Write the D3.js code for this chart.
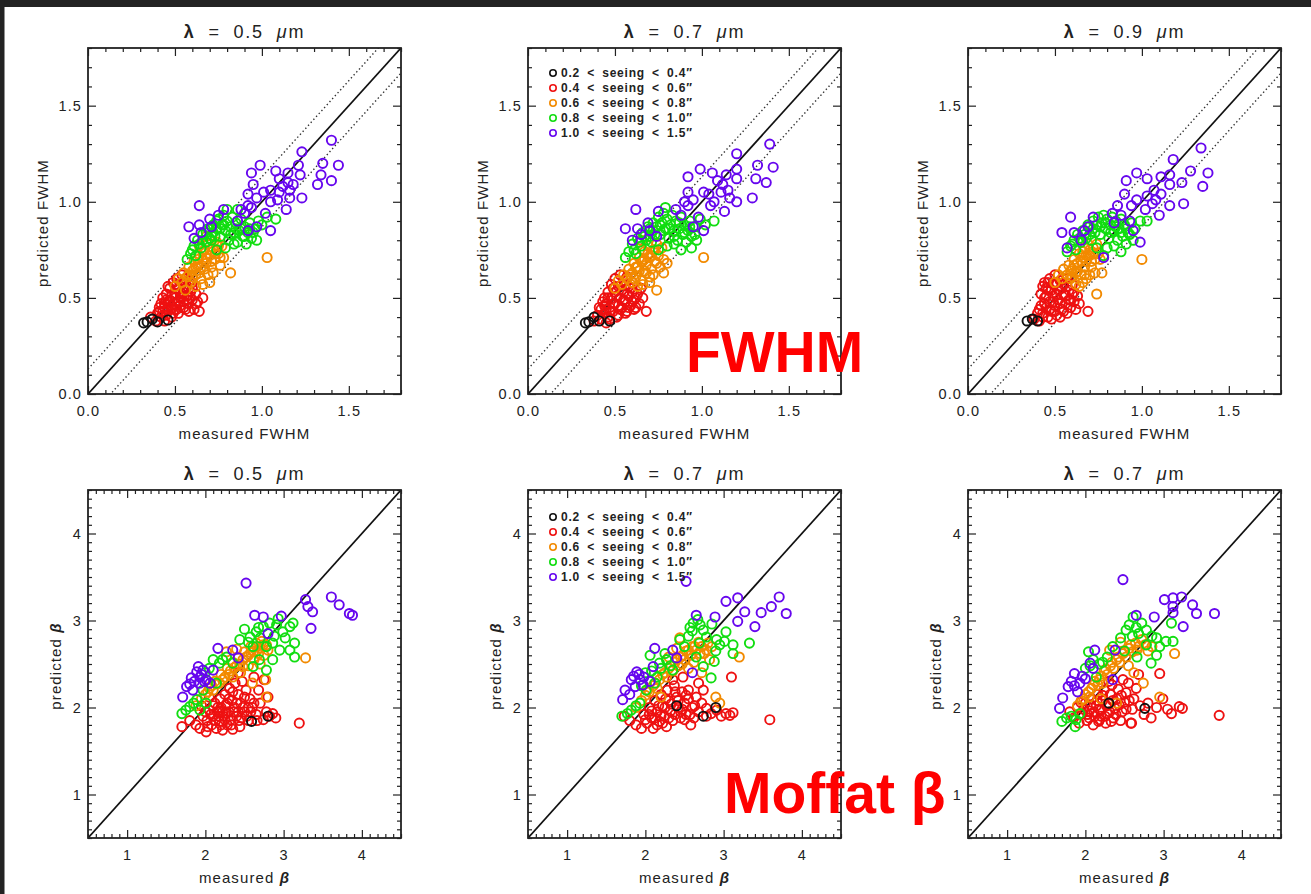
<!DOCTYPE html>
<html><head><meta charset="utf-8">
<script src="https://cdn.jsdelivr.net/npm/d3@7"></script>
<style>body{margin:0;background:#fff}svg{display:block}</style>
</head><body><svg id="c" width="1311" height="894"></svg>
<script>
// ---------------- DATA ----------------
const seeingLabels = ["0.2 < seeing < 0.4\u2033","0.4 < seeing < 0.6\u2033","0.6 < seeing < 0.8\u2033","0.8 < seeing < 1.0\u2033","1.0 < seeing < 1.5\u2033"];
const panelTitles = ["0.5","0.7","0.9","0.5","0.7","0.7"];
const fwhmTicks = [0, 0.5, 1.0, 1.5];
const betaTicks = [1, 2, 3, 4];
const fwhmDomain = [0, 1.8];
const betaDomain = [0.5, 4.5];
const fwhmBand = 0.13;

// Panel 1: FWHM, lambda = 0.5
const f05Black = [[0.32,0.37],[0.34,0.375],[0.37,0.39],[0.40,0.375],[0.46,0.385]];
const f05Red = [[0.36,0.40],[0.39,0.38],[0.40,0.42],[0.42,0.40],[0.41,0.45],[0.43,0.43],[0.44,0.47],[0.45,0.41],[0.46,0.44],[0.47,0.49],[0.48,0.46],[0.49,0.42],[0.50,0.52],[0.50,0.47],[0.51,0.44],[0.52,0.55],[0.53,0.50],[0.53,0.46],[0.54,0.58],[0.55,0.53],[0.55,0.48],[0.56,0.44],[0.57,0.56],[0.57,0.51],[0.58,0.47],[0.59,0.53],[0.60,0.49],[0.61,0.44],[0.62,0.52],[0.63,0.48],[0.64,0.43],[0.47,0.55],[0.45,0.52],[0.43,0.50],[0.49,0.58],[0.51,0.60],[0.48,0.40],[0.52,0.42],[0.58,0.43],[0.66,0.50],[0.44,0.38],[0.46,0.56],[0.54,0.62],[0.60,0.58],[0.56,0.60],[0.41,0.43],[0.44,0.45],[0.46,0.48],[0.48,0.51],[0.50,0.50],[0.52,0.48],[0.54,0.51],[0.56,0.55],[0.58,0.59],[0.60,0.55],[0.62,0.47],[0.48,0.44],[0.51,0.57],[0.53,0.53],[0.55,0.45],[0.57,0.49],[0.45,0.49],[0.42,0.47],[0.50,0.44],[0.59,0.50]];
const f05Orange = [[0.50,0.56],[0.52,0.60],[0.54,0.58],[0.55,0.63],[0.57,0.61],[0.58,0.66],[0.59,0.58],[0.60,0.64],[0.61,0.69],[0.62,0.62],[0.63,0.67],[0.64,0.72],[0.65,0.60],[0.66,0.70],[0.67,0.65],[0.67,0.75],[0.68,0.68],[0.69,0.78],[0.70,0.72],[0.71,0.66],[0.72,0.76],[0.73,0.70],[0.74,0.79],[0.75,0.73],[0.76,0.67],[0.77,0.77],[0.78,0.71],[0.69,0.62],[0.72,0.63],[0.62,0.56],[0.56,0.54],[0.66,0.57],[0.68,0.82],[0.64,0.77],[0.82,0.63],[1.03,0.71],[0.70,0.58],[0.58,0.62],[0.61,0.65],[0.63,0.70],[0.65,0.66],[0.66,0.74],[0.68,0.71],[0.70,0.75],[0.71,0.69],[0.73,0.73],[0.75,0.77],[0.62,0.66],[0.64,0.63],[0.76,0.71],[0.60,0.61]];
const f05Green = [[0.57,0.70],[0.59,0.73],[0.61,0.77],[0.62,0.72],[0.63,0.80],[0.65,0.76],[0.66,0.83],[0.68,0.79],[0.69,0.86],[0.70,0.81],[0.72,0.84],[0.72,0.88],[0.74,0.86],[0.75,0.91],[0.76,0.82],[0.77,0.88],[0.78,0.93],[0.79,0.85],[0.80,0.90],[0.81,0.80],[0.82,0.87],[0.83,0.92],[0.84,0.84],[0.85,0.89],[0.86,0.79],[0.87,0.85],[0.88,0.91],[0.89,0.82],[0.90,0.87],[0.91,0.78],[0.92,0.84],[0.93,0.89],[0.94,0.81],[0.96,0.86],[0.98,0.90],[1.00,0.88],[1.03,0.92],[1.08,0.91],[0.79,0.76],[0.84,0.78],[0.74,0.75],[0.97,0.80],[0.86,0.96],[0.80,0.96],[0.60,0.75],[0.64,0.78],[0.66,0.80],[0.68,0.84],[0.70,0.86],[0.71,0.80],[0.73,0.82],[0.74,0.90],[0.76,0.86],[0.78,0.88],[0.82,0.83],[0.85,0.86],[0.88,0.86],[0.90,0.82],[0.93,0.86],[0.95,0.84]];
const f05Purple = [[1.40,1.32],[1.23,1.26],[1.35,1.20],[1.44,1.19],[1.34,1.14],[1.40,1.11],[1.32,1.09],[1.23,1.02],[1.14,0.96],[0.99,1.19],[0.94,1.15],[1.08,1.16],[1.15,1.15],[1.21,1.19],[1.22,1.14],[1.15,1.10],[1.10,1.12],[0.95,1.09],[1.05,1.06],[1.10,1.05],[1.16,1.06],[0.92,1.04],[0.97,1.02],[1.01,1.05],[1.09,1.01],[1.05,1.00],[0.94,0.97],[1.02,0.94],[0.90,0.94],[0.64,0.98],[0.78,0.96],[0.58,0.87],[0.64,0.88],[0.70,0.91],[0.71,0.87],[0.75,0.93],[0.61,0.81],[0.65,0.84],[0.92,0.85],[0.97,0.87],[1.05,0.85],[0.92,0.98],[1.16,1.02],[1.18,1.09],[1.12,1.08],[0.86,0.90],[0.88,0.96]];

// Panel 2: FWHM, lambda = 0.7
const f07Black = [[0.33,0.37],[0.35,0.375],[0.38,0.40],[0.41,0.38],[0.47,0.38]];
const f07Red = [[0.38,0.38],[0.40,0.41],[0.42,0.39],[0.42,0.44],[0.44,0.42],[0.45,0.47],[0.46,0.40],[0.47,0.45],[0.48,0.50],[0.49,0.43],[0.50,0.53],[0.50,0.47],[0.52,0.41],[0.52,0.56],[0.53,0.50],[0.54,0.45],[0.55,0.59],[0.55,0.53],[0.56,0.48],[0.57,0.43],[0.58,0.56],[0.58,0.51],[0.59,0.46],[0.60,0.53],[0.61,0.49],[0.62,0.45],[0.63,0.52],[0.64,0.47],[0.66,0.50],[0.46,0.53],[0.44,0.50],[0.48,0.57],[0.50,0.60],[0.53,0.62],[0.47,0.39],[0.51,0.40],[0.56,0.42],[0.61,0.44],[0.68,0.43],[0.45,0.37],[0.57,0.61],[0.60,0.58],[0.43,0.48],[0.65,0.55],[0.41,0.45],[0.44,0.46],[0.46,0.50],[0.47,0.43],[0.49,0.47],[0.51,0.51],[0.52,0.46],[0.54,0.54],[0.55,0.49],[0.56,0.57],[0.57,0.52],[0.59,0.55],[0.60,0.48],[0.62,0.50],[0.49,0.55],[0.53,0.44],[0.45,0.44],[0.58,0.45]];
const f07Orange = [[0.50,0.55],[0.52,0.59],[0.54,0.57],[0.55,0.62],[0.57,0.60],[0.58,0.65],[0.60,0.58],[0.60,0.63],[0.61,0.68],[0.62,0.61],[0.63,0.66],[0.64,0.71],[0.65,0.59],[0.66,0.69],[0.67,0.64],[0.67,0.74],[0.68,0.67],[0.69,0.77],[0.70,0.71],[0.71,0.65],[0.72,0.75],[0.73,0.69],[0.74,0.78],[0.75,0.72],[0.76,0.66],[0.77,0.76],[0.78,0.70],[0.70,0.61],[0.72,0.62],[0.63,0.56],[0.66,0.57],[0.65,0.80],[0.78,0.63],[0.74,0.54],[1.01,0.71],[0.80,0.68],[0.70,0.58],[0.59,0.62],[0.62,0.66],[0.64,0.64],[0.65,0.69],[0.67,0.70],[0.69,0.73],[0.71,0.72],[0.73,0.75],[0.68,0.63],[0.74,0.68],[0.61,0.60],[0.66,0.75]];
const f07Green = [[0.56,0.71],[0.58,0.74],[0.60,0.78],[0.62,0.73],[0.63,0.81],[0.65,0.77],[0.66,0.84],[0.68,0.80],[0.69,0.87],[0.70,0.82],[0.72,0.85],[0.72,0.89],[0.74,0.87],[0.75,0.92],[0.76,0.83],[0.77,0.89],[0.78,0.94],[0.79,0.86],[0.80,0.91],[0.81,0.81],[0.82,0.88],[0.83,0.93],[0.84,0.85],[0.85,0.90],[0.86,0.80],[0.87,0.86],[0.88,0.92],[0.89,0.83],[0.90,0.88],[0.91,0.79],[0.92,0.85],[0.93,0.90],[0.94,0.82],[0.96,0.87],[0.97,0.80],[0.99,0.91],[1.02,0.88],[1.07,0.90],[0.80,0.77],[0.84,0.78],[0.75,0.75],[0.88,0.75],[0.94,0.76],[0.79,0.97],[0.61,0.75],[0.64,0.79],[0.67,0.82],[0.70,0.86],[0.71,0.79],[0.73,0.83],[0.76,0.88],[0.78,0.85],[0.81,0.86],[0.84,0.82],[0.87,0.89],[0.90,0.84],[0.93,0.87],[0.96,0.83]];
const f07Purple = [[1.39,1.30],[1.20,1.25],[1.32,1.19],[1.41,1.18],[1.31,1.12],[1.37,1.10],[1.29,1.02],[1.20,1.00],[1.13,0.95],[0.99,1.17],[0.92,1.13],[1.06,1.15],[1.14,1.14],[1.20,1.17],[1.20,1.12],[1.12,1.09],[1.09,1.11],[0.92,1.05],[1.04,1.04],[1.11,1.05],[1.15,1.06],[0.90,1.00],[0.95,1.01],[1.01,1.05],[1.07,1.00],[1.05,0.98],[0.92,0.98],[0.62,0.96],[0.75,0.95],[0.56,0.86],[0.63,0.86],[0.69,0.89],[0.70,0.85],[0.60,0.80],[0.65,0.83],[0.95,0.87],[1.01,0.85],[0.88,0.93],[0.98,0.92],[1.16,1.02],[0.85,0.96],[0.74,0.82]];

// Panel 3: FWHM, lambda = 0.9
const f09Black = [[0.34,0.38],[0.37,0.39],[0.40,0.38]];
const f09Red = [[0.38,0.39],[0.40,0.42],[0.41,0.38],[0.42,0.46],[0.43,0.42],[0.44,0.50],[0.45,0.45],[0.46,0.40],[0.46,0.54],[0.47,0.48],[0.48,0.43],[0.49,0.57],[0.49,0.51],[0.50,0.46],[0.51,0.41],[0.52,0.54],[0.52,0.49],[0.53,0.59],[0.54,0.44],[0.55,0.52],[0.55,0.57],[0.56,0.47],[0.57,0.42],[0.58,0.54],[0.58,0.49],[0.59,0.45],[0.60,0.52],[0.61,0.48],[0.62,0.44],[0.63,0.51],[0.44,0.58],[0.45,0.55],[0.47,0.60],[0.50,0.62],[0.42,0.52],[0.48,0.39],[0.53,0.40],[0.57,0.60],[0.60,0.57],[0.69,0.43],[0.64,0.47],[0.43,0.56],[0.41,0.44],[0.44,0.47],[0.45,0.51],[0.47,0.44],[0.48,0.54],[0.49,0.48],[0.51,0.52],[0.51,0.58],[0.53,0.47],[0.54,0.55],[0.56,0.51],[0.57,0.56],[0.59,0.49],[0.61,0.53],[0.55,0.43],[0.50,0.43],[0.46,0.58],[0.43,0.40]];
const f09Orange = [[0.50,0.58],[0.52,0.62],[0.54,0.60],[0.55,0.65],[0.57,0.62],[0.58,0.67],[0.59,0.60],[0.60,0.65],[0.61,0.70],[0.62,0.63],[0.63,0.68],[0.64,0.73],[0.65,0.62],[0.66,0.71],[0.67,0.66],[0.67,0.76],[0.68,0.69],[0.69,0.78],[0.70,0.72],[0.71,0.66],[0.72,0.76],[0.73,0.70],[0.74,0.78],[0.75,0.73],[0.62,0.57],[0.66,0.58],[0.70,0.62],[0.73,0.63],[0.77,0.63],[0.74,0.52],[1.00,0.70],[0.64,0.56],[0.68,0.60],[0.59,0.64],[0.61,0.67],[0.63,0.64],[0.65,0.69],[0.66,0.74],[0.68,0.72],[0.70,0.75],[0.71,0.69],[0.72,0.73],[0.67,0.62],[0.60,0.61],[0.76,0.70]];
const f09Green = [[0.57,0.74],[0.59,0.77],[0.61,0.80],[0.62,0.75],[0.63,0.83],[0.65,0.79],[0.66,0.85],[0.68,0.81],[0.69,0.88],[0.70,0.83],[0.72,0.86],[0.72,0.90],[0.74,0.88],[0.75,0.92],[0.76,0.83],[0.77,0.89],[0.78,0.93],[0.79,0.86],[0.80,0.91],[0.81,0.81],[0.82,0.88],[0.83,0.92],[0.84,0.85],[0.85,0.90],[0.86,0.80],[0.87,0.86],[0.88,0.91],[0.89,0.82],[0.90,0.88],[0.91,0.78],[0.92,0.84],[0.94,0.89],[0.96,0.86],[0.99,0.90],[1.03,0.90],[0.80,0.76],[0.84,0.77],[0.74,0.76],[0.78,0.72],[0.95,0.80],[0.88,0.74],[0.60,0.78],[0.64,0.81],[0.67,0.83],[0.70,0.87],[0.71,0.80],[0.73,0.84],[0.76,0.87],[0.79,0.89],[0.82,0.84],[0.85,0.87],[0.88,0.84],[0.91,0.86],[0.93,0.83]];
const f09Purple = [[1.34,1.28],[1.18,1.22],[1.28,1.16],[1.38,1.15],[1.23,1.10],[1.35,1.08],[1.24,0.99],[1.16,0.98],[1.10,0.93],[0.97,1.15],[0.91,1.11],[1.03,1.12],[1.11,1.13],[1.16,1.14],[1.16,1.09],[1.07,1.06],[0.90,1.04],[0.97,1.01],[1.03,1.03],[1.08,1.01],[1.11,1.04],[0.86,0.98],[0.94,0.98],[0.59,0.92],[0.72,0.92],[0.54,0.84],[0.61,0.84],[0.67,0.85],[0.69,0.87],[0.57,0.76],[0.65,0.80],[0.95,0.85],[0.99,0.79],[0.83,0.94],[0.88,0.93],[1.02,0.96],[1.06,0.99],[0.78,0.71],[0.93,0.90],[0.84,0.89]];

// Panel 4: Moffat beta, lambda = 0.5
const b05Black = [[2.59,1.84],[2.80,1.90]];
const b05Red = [[1.70,1.78],[1.80,1.85],[1.88,1.80],[1.93,1.76],[1.97,1.90],[2.01,1.72],[2.02,1.85],[2.05,1.97],[2.08,1.80],[2.10,1.90],[2.12,2.05],[2.14,1.76],[2.15,1.95],[2.18,1.84],[2.19,2.10],[2.20,2.00],[2.22,1.74],[2.23,1.90],[2.25,2.15],[2.26,2.03],[2.28,1.80],[2.30,1.95],[2.31,2.22],[2.32,1.86],[2.34,2.08],[2.35,1.75],[2.37,2.00],[2.38,2.28],[2.40,1.90],[2.42,2.15],[2.44,1.78],[2.45,2.05],[2.47,2.30],[2.50,1.95],[2.52,2.20],[2.55,1.85],[2.57,2.10],[2.60,2.00],[2.62,2.35],[2.65,1.92],[2.68,2.20],[2.70,2.05],[2.74,1.86],[2.75,2.32],[2.78,1.95],[2.82,1.90],[2.86,1.93],[2.90,1.88],[2.80,2.12],[2.42,2.40],[3.20,1.82],[2.05,2.12],[1.95,2.02],[2.25,1.86],[2.46,1.88],[2.17,1.90],[2.00,1.95],[2.03,1.78],[2.07,1.92],[2.10,2.02],[2.13,1.85],[2.16,2.00],[2.20,1.80],[2.22,1.95],[2.27,1.93],[2.30,2.10],[2.33,1.80],[2.36,1.95],[2.40,2.05],[2.43,1.85],[2.48,2.00],[2.50,2.12],[2.53,1.90],[2.58,1.95],[2.62,2.05],[2.66,1.85],[2.35,2.18],[2.28,2.05],[2.18,1.96],[2.42,1.95],[2.55,2.00]];
const b05Orange = [[1.88,2.02],[1.95,2.10],[2.00,2.15],[2.05,2.22],[2.10,2.20],[2.12,2.30],[2.18,2.28],[2.20,2.38],[2.25,2.35],[2.28,2.45],[2.32,2.42],[2.35,2.52],[2.40,2.48],[2.42,2.58],[2.48,2.55],[2.50,2.64],[2.55,2.60],[2.58,2.70],[2.62,2.65],[2.65,2.74],[2.70,2.68],[2.72,2.76],[2.78,2.72],[2.80,2.66],[2.62,2.55],[2.55,2.48],[2.45,2.40],[2.75,2.60],[2.27,2.64],[2.60,2.28],[2.77,2.32],[2.78,2.12],[3.28,2.57],[2.40,2.67],[2.70,2.50],[2.03,2.18],[2.08,2.25],[2.15,2.27],[2.22,2.32],[2.30,2.38],[2.37,2.46],[2.44,2.50],[2.52,2.58],[2.58,2.63],[2.66,2.70],[2.74,2.72],[2.68,2.62],[2.48,2.47],[2.35,2.35]];
const b05Green = [[1.70,1.93],[1.80,2.01],[1.89,2.09],[1.97,2.20],[2.10,2.55],[2.18,2.51],[2.27,2.58],[2.44,2.78],[2.57,2.81],[2.65,2.87],[2.74,2.93],[2.82,2.97],[2.91,2.95],[2.99,2.87],[3.08,2.93],[3.12,2.97],[3.14,2.74],[3.08,2.66],[3.14,2.58],[2.95,2.66],[2.86,2.74],[2.78,2.70],[2.86,2.55],[2.69,2.55],[2.78,2.43],[2.61,2.47],[2.35,2.51],[2.14,2.28],[2.01,2.05],[1.93,1.97],[2.61,2.70],[2.93,3.02],[2.50,2.90],[2.70,2.80],[2.00,2.40],[1.75,1.97],[1.85,2.05],[2.05,2.45],[2.22,2.55],[2.55,2.75],[2.68,2.92],[2.88,2.82],[3.02,2.80]];
const b05Purple = [[2.52,3.43],[3.61,3.27],[3.71,3.18],[3.84,3.08],[3.88,3.06],[3.28,3.24],[3.31,3.16],[3.37,3.10],[3.35,2.91],[2.63,3.06],[2.74,3.04],[2.97,3.05],[2.16,2.68],[2.35,2.66],[2.42,2.57],[1.71,2.12],[1.76,2.24],[1.82,2.34],[1.89,2.41],[1.93,2.35],[1.97,2.43],[1.84,2.20],[1.93,2.28],[2.01,2.32],[2.06,2.28],[1.91,2.47],[2.10,2.43],[2.80,2.85],[1.86,2.30],[1.95,2.38],[1.99,2.30],[1.80,2.27]];

// Panel 5: Moffat beta, lambda = 0.7
const b07Black = [[2.74,1.90],[2.90,2.00],[2.40,2.02]];
const b07Red = [[1.73,1.90],[1.80,1.85],[1.88,1.80],[1.95,1.76],[1.98,1.92],[2.02,1.82],[2.05,2.00],[2.08,1.88],[2.10,1.76],[2.12,2.08],[2.15,1.95],[2.18,1.84],[2.20,2.15],[2.22,2.02],[2.24,1.90],[2.27,1.78],[2.28,2.20],[2.30,2.08],[2.32,1.96],[2.35,1.85],[2.37,2.25],[2.40,2.12],[2.42,2.00],[2.45,1.88],[2.47,2.18],[2.50,2.05],[2.52,1.92],[2.55,2.20],[2.58,1.80],[2.60,2.00],[2.62,1.88],[2.65,2.12],[2.68,1.95],[2.72,2.05],[2.74,2.20],[2.78,1.90],[2.78,1.99],[2.84,1.93],[2.91,1.97],[2.97,1.90],[3.03,1.93],[3.08,1.91],[3.12,1.94],[3.10,2.35],[3.59,1.86],[2.48,2.35],[2.35,2.32],[2.15,1.80],[2.05,1.92],[2.25,2.00],[2.45,1.95],[2.55,2.10],[2.68,2.28],[2.00,1.86],[2.08,1.96],[2.12,1.88],[2.17,2.02],[2.20,1.90],[2.26,2.10],[2.30,1.88],[2.33,2.04],[2.38,1.92],[2.42,2.08],[2.47,1.98],[2.52,2.14],[2.57,1.92],[2.63,2.02],[2.38,2.18],[2.22,1.82],[2.50,1.86]];
const b07Orange = [[1.88,2.00],[1.95,2.08],[2.00,2.14],[2.05,2.18],[2.10,2.25],[2.15,2.22],[2.18,2.32],[2.22,2.38],[2.27,2.35],[2.30,2.45],[2.35,2.42],[2.38,2.52],[2.42,2.48],[2.45,2.58],[2.50,2.55],[2.52,2.65],[2.58,2.60],[2.60,2.70],[2.65,2.66],[2.68,2.75],[2.72,2.70],[2.75,2.62],[2.80,2.74],[2.85,2.70],[2.62,2.52],[2.55,2.45],[2.44,2.80],[2.40,2.68],[2.72,2.40],[2.90,2.12],[2.95,2.05],[3.20,2.58],[2.30,2.58],[2.82,2.55],[2.20,2.12],[2.03,2.20],[2.13,2.28],[2.25,2.40],[2.33,2.48],[2.40,2.55],[2.48,2.60],[2.55,2.66],[2.63,2.70],[2.70,2.62],[2.78,2.66],[2.47,2.50]];
const b07Green = [[1.70,1.90],[1.82,1.97],[1.93,2.05],[2.01,2.20],[2.06,2.60],[2.18,2.51],[2.27,2.55],[2.15,2.35],[2.44,2.78],[2.61,2.97],[2.67,3.01],[2.74,2.89],[2.60,2.88],[2.78,2.81],[2.91,2.78],[3.01,2.76],[3.12,2.72],[3.33,2.74],[3.12,2.62],[2.90,2.65],[2.88,2.53],[2.84,2.34],[2.74,2.47],[2.69,2.74],[2.35,2.43],[2.12,2.28],[2.55,2.82],[2.50,2.70],[3.03,2.87],[2.25,2.62],[2.00,2.40],[1.95,2.25],[2.65,2.58],[2.32,2.48],[2.85,2.96],[1.77,1.93],[1.88,2.02],[2.08,2.42],[2.20,2.45],[2.57,2.92],[2.70,2.95],[2.95,2.72]];
const b07Purple = [[2.52,3.45],[3.03,3.22],[3.18,3.26],[3.71,3.27],[3.61,3.16],[3.48,3.09],[3.80,3.08],[3.27,3.10],[3.18,2.99],[3.40,2.93],[2.65,3.06],[2.89,3.04],[2.12,2.68],[2.35,2.66],[2.40,2.57],[1.71,2.09],[1.74,2.20],[1.82,2.32],[1.89,2.41],[1.93,2.32],[1.87,2.24],[1.97,2.26],[2.06,2.30],[2.10,2.47],[1.80,2.15],[1.92,2.38],[2.60,2.40],[1.85,2.36],[1.98,2.35]];

// Panel 6: Moffat beta, third panel (titled 0.7)
const b07bBlack = [[2.76,1.99],[2.30,2.05]];
const b07bRed = [[1.80,1.95],[1.85,1.88],[1.90,2.00],[1.92,1.82],[1.96,1.93],[2.00,2.05],[2.02,1.85],[2.05,1.96],[2.08,2.10],[2.10,1.80],[2.12,1.90],[2.14,2.02],[2.16,2.15],[2.18,1.86],[2.20,1.97],[2.22,2.08],[2.24,2.20],[2.26,1.82],[2.28,1.93],[2.30,2.04],[2.32,2.15],[2.34,2.26],[2.36,1.88],[2.38,1.99],[2.40,2.10],[2.42,2.21],[2.45,1.85],[2.47,1.95],[2.50,2.06],[2.52,2.17],[2.55,2.28],[2.58,1.82],[2.60,1.98],[2.62,2.10],[2.65,2.22],[2.70,2.02],[2.75,1.92],[2.80,2.05],[2.84,1.88],[2.91,2.00],[2.95,2.39],[2.99,2.10],[3.05,1.98],[3.10,1.93],[3.20,2.01],[3.24,1.99],[2.59,1.82],[3.71,1.91],[2.48,2.32],[2.30,2.30],[2.68,2.38],[2.05,1.88],[2.20,1.90],[1.98,1.98],[2.03,1.92],[2.07,2.03],[2.11,1.95],[2.15,2.08],[2.18,1.98],[2.22,2.14],[2.25,1.90],[2.27,2.02],[2.31,1.95],[2.35,2.08],[2.39,1.92],[2.43,2.03],[2.46,2.14],[2.52,1.98],[2.56,2.08],[2.33,1.84],[2.17,1.84],[1.94,2.06]];
const b07bOrange = [[1.90,2.02],[1.95,2.08],[2.00,2.15],[2.05,2.12],[2.08,2.22],[2.12,2.30],[2.16,2.26],[2.20,2.36],[2.24,2.42],[2.28,2.38],[2.32,2.48],[2.36,2.45],[2.40,2.55],[2.44,2.52],[2.48,2.62],[2.52,2.58],[2.56,2.68],[2.60,2.64],[2.64,2.74],[2.68,2.70],[2.72,2.78],[2.76,2.72],[2.80,2.65],[2.85,2.70],[2.31,2.66],[2.45,2.75],[2.55,2.48],[2.74,2.28],[2.95,2.12],[3.14,2.62],[2.40,2.05],[2.62,2.40],[2.20,2.10],[1.98,2.10],[2.04,2.18],[2.10,2.26],[2.18,2.32],[2.26,2.44],[2.34,2.52],[2.42,2.58],[2.50,2.64],[2.58,2.72],[2.66,2.66],[2.22,2.28]];
const b07bGreen = [[1.70,1.84],[1.87,1.78],[1.93,1.93],[2.04,2.64],[2.18,2.50],[2.35,2.70],[2.52,2.89],[2.61,3.04],[2.72,2.97],[2.78,2.89],[2.91,2.80],[3.03,2.76],[3.10,2.97],[3.12,2.76],[2.91,2.60],[2.84,2.51],[2.14,2.35],[2.60,2.82],[2.68,2.85],[2.78,2.72],[2.45,2.80],[2.28,2.58],[2.00,2.45],[1.82,1.90],[2.10,2.55],[2.66,2.58],[2.50,2.65],[2.95,2.70],[1.76,1.88],[1.88,1.86],[2.06,2.48],[2.22,2.52],[2.56,2.95],[2.65,2.92],[2.85,2.82]];
const b07bPurple = [[2.48,3.47],[3.01,3.24],[3.12,3.26],[3.23,3.27],[3.12,3.16],[3.12,3.09],[3.37,3.18],[3.42,3.08],[3.65,3.08],[3.25,2.93],[2.88,3.04],[2.65,3.06],[2.12,2.66],[2.38,2.66],[1.67,1.99],[1.71,2.11],[1.78,2.24],[1.86,2.39],[1.93,2.28],[2.00,2.33],[2.06,2.51],[2.35,2.32],[1.82,2.30],[1.90,2.18],[2.10,2.45],[1.86,2.25],[1.96,2.36]];

// ---------------- DRAWING ----------------
const W = 1311, H = 894;
const colors = ["#111111", "#ee1111", "#f28a00", "#11dd11", "#6606ee"];
const drawOrder = [1, 2, 3, 4, 0];
const FONT = "'Liberation Sans', Arial, Helvetica, sans-serif";
const INK = "#222";
const svg = d3.select("#c");
svg.append("rect").attr("width", W).attr("height", H).attr("fill", "#fff");
svg.append("rect").attr("x", 0).attr("y", 0).attr("width", W).attr("height", 7).attr("fill", "#232323");
svg.append("rect").attr("x", 0).attr("y", 0).attr("width", 4.5).attr("height", H).attr("fill", "#232323");

const colLeft = [88, 528, 968];
const PW = 313;
const rows = [
  {top: 48, bottom: 394, domain: fwhmDomain, ticks: fwhmTicks, minorStep: 0.1, fmt: d3.format(".1f"),
   band: fwhmBand, xlab: ["measured FWHM"], ylab: ["predicted FWHM"], yTitleX: 48, xPad: 12, legendDy: 25},
  {top: 490, bottom: 838, domain: betaDomain, ticks: betaTicks, minorStep: 0.1, fmt: d3.format("d"),
   band: null, xlab: ["measured ", "β"], ylab: ["predicted ", "β"], yTitleX: 61, xPad: 12, legendDy: 27}
];
const panels = [
  {row: 0, col: 0, title: panelTitles[0], series: [f05Black, f05Red, f05Orange, f05Green, f05Purple], legend: false},
  {row: 0, col: 1, title: panelTitles[1], series: [f07Black, f07Red, f07Orange, f07Green, f07Purple], legend: true},
  {row: 0, col: 2, title: panelTitles[2], series: [f09Black, f09Red, f09Orange, f09Green, f09Purple], legend: false},
  {row: 1, col: 0, title: panelTitles[3], series: [b05Black, b05Red, b05Orange, b05Green, b05Purple], legend: false},
  {row: 1, col: 1, title: panelTitles[4], series: [b07Black, b07Red, b07Orange, b07Green, b07Purple], legend: true},
  {row: 1, col: 2, title: panelTitles[5], series: [b07bBlack, b07bRed, b07bOrange, b07bGreen, b07bPurple], legend: false}
];

function styleAxis(g, fs) {
  g.select(".domain").remove();
  g.selectAll(".tick line").attr("stroke", INK).attr("stroke-width", 1.2);
  g.selectAll(".tick text").attr("font-family", FONT).attr("font-size", fs).attr("fill", INK).attr("letter-spacing", 1.1);
}

panels.forEach((p, idx) => {
  const r = rows[p.row];
  const left = colLeft[p.col], right = left + PW;
  const x = d3.scaleLinear().domain(r.domain).range([left, right]);
  const y = d3.scaleLinear().domain(r.domain).range([r.bottom, r.top]);
  const g = svg.append("g");
  const cid = "clip" + idx;
  svg.append("clipPath").attr("id", cid).append("rect")
    .attr("x", left).attr("y", r.top).attr("width", PW).attr("height", r.bottom - r.top);
  const plot = g.append("g").attr("clip-path", `url(#${cid})`);
  const [d0, d1] = r.domain;
  plot.append("line").attr("x1", x(d0)).attr("y1", y(d0)).attr("x2", x(d1)).attr("y2", y(d1))
    .attr("stroke", "#111").attr("stroke-width", 1.7);
  if (r.band) {
    [r.band, -r.band].forEach(off => {
      plot.append("line").attr("x1", x(d0)).attr("y1", y(d0 + off)).attr("x2", x(d1)).attr("y2", y(d1 + off))
        .attr("stroke", "#333").attr("stroke-width", 1.4).attr("stroke-dasharray", "1.4 2.6");
    });
  }
  drawOrder.forEach(i => {
    plot.append("g").selectAll("circle").data(p.series[i]).join("circle")
      .attr("cx", d => x(d[0])).attr("cy", d => y(d[1])).attr("r", 4.6)
      .attr("fill", "none").attr("stroke", colors[i]).attr("stroke-width", 1.9);
  });

  // ticks
  const minors = d3.range(d0, d1 + 1e-9, r.minorStep).filter(v => !r.ticks.some(t => Math.abs(t - v) < 1e-6));
  const fs = 14.5;
  g.append("g").attr("transform", `translate(0,${r.bottom})`)
    .call(d3.axisBottom(x).tickValues(r.ticks).tickSize(-8).tickPadding(r.xPad).tickFormat(r.fmt)).call(a => styleAxis(a, fs));
  g.append("g").attr("transform", `translate(0,${r.bottom})`)
    .call(d3.axisBottom(x).tickValues(minors).tickSize(-4).tickFormat(() => "")).call(a => styleAxis(a, fs));
  g.append("g").attr("transform", `translate(0,${r.top})`)
    .call(d3.axisTop(x).tickValues(r.ticks).tickSize(-8).tickFormat(() => "")).call(a => styleAxis(a, fs));
  g.append("g").attr("transform", `translate(0,${r.top})`)
    .call(d3.axisTop(x).tickValues(minors).tickSize(-4).tickFormat(() => "")).call(a => styleAxis(a, fs));
  g.append("g").attr("transform", `translate(${left},0)`)
    .call(d3.axisLeft(y).tickValues(r.ticks).tickSize(-8).tickPadding(6).tickFormat(r.fmt)).call(a => styleAxis(a, fs));
  g.append("g").attr("transform", `translate(${left},0)`)
    .call(d3.axisLeft(y).tickValues(minors).tickSize(-4).tickFormat(() => "")).call(a => styleAxis(a, fs));
  g.append("g").attr("transform", `translate(${right},0)`)
    .call(d3.axisRight(y).tickValues(r.ticks).tickSize(-8).tickFormat(() => "")).call(a => styleAxis(a, fs));
  g.append("g").attr("transform", `translate(${right},0)`)
    .call(d3.axisRight(y).tickValues(minors).tickSize(-4).tickFormat(() => "")).call(a => styleAxis(a, fs));

  g.append("rect").attr("x", left).attr("y", r.top).attr("width", PW).attr("height", r.bottom - r.top)
    .attr("fill", "none").attr("stroke", INK).attr("stroke-width", 1.8);

  // title
  const cx = (left + right) / 2;
  const t = g.append("text").attr("x", cx).attr("y", r.top - 10).attr("text-anchor", "middle")
    .attr("font-family", FONT).attr("font-size", 18).attr("fill", INK)
    .attr("letter-spacing", 1.8).attr("word-spacing", 6);
  t.append("tspan").attr("font-weight", "bold").text("λ");
  t.append("tspan").text(" = " + p.title + " ");
  t.append("tspan").attr("font-style", "italic").text("μ");
  t.append("tspan").text("m");

  // x title
  const xt = g.append("text").attr("x", cx).attr("y", r.bottom + 45).attr("text-anchor", "middle")
    .attr("font-family", FONT).attr("font-size", 15).attr("fill", INK).attr("letter-spacing", 1.1);
  xt.append("tspan").text(r.xlab[0]);
  if (r.xlab[1]) xt.append("tspan").attr("font-weight", "bold").attr("font-style", "italic").text(r.xlab[1]);
  // y title
  const yt = g.append("text")
    .attr("transform", `translate(${left - 88 + r.yTitleX},${(r.top + r.bottom) / 2 + 2}) rotate(-90)`)
    .attr("text-anchor", "middle").attr("font-family", FONT).attr("font-size", 15).attr("fill", INK).attr("letter-spacing", 1.1);
  yt.append("tspan").text(r.ylab[0]);
  if (r.ylab[1]) yt.append("tspan").attr("font-weight", "bold").attr("font-style", "italic").text(r.ylab[1]);

  // legend
  if (p.legend) {
    const lg = g.append("g").attr("transform", `translate(${left + 25},${r.top + r.legendDy})`);
    seeingLabels.forEach((lab, i) => {
      lg.append("circle").attr("cx", 0).attr("cy", i * 15).attr("r", 3.2)
        .attr("fill", "none").attr("stroke", colors[i]).attr("stroke-width", 1.6);
      lg.append("text").attr("x", 8).attr("y", i * 15).attr("dy", "0.36em")
        .attr("font-family", FONT).attr("font-size", 12).attr("font-weight", "bold").attr("fill", INK)
        .attr("letter-spacing", 0.8).attr("word-spacing", 3).text(lab);
    });
  }
});

// red annotations
svg.append("text").attr("x", 686).attr("y", 372).attr("font-family", FONT).attr("font-weight", "bold")
  .attr("font-size", 57).attr("fill", "#ff0000").text("FWHM");
svg.append("text").attr("x", 724).attr("y", 813).attr("font-family", FONT).attr("font-weight", "bold")
  .attr("font-size", 57).attr("fill", "#ff0000").text("Moffat β");
</script></body></html>
